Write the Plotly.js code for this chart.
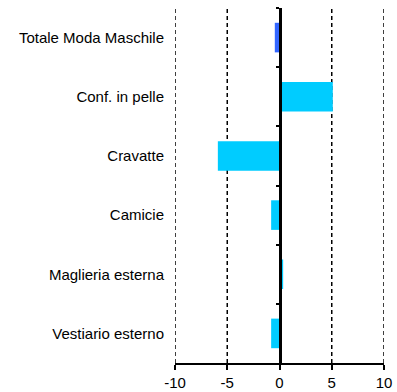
<!DOCTYPE html>
<html>
<head>
<meta charset="utf-8">
<script src="https://cdn.plot.ly/plotly-3.0.1.min.js"></script>
<style>html,body{margin:0;padding:0;background:#fff;}#chart{width:397px;height:392px;}</style>
</head>
<body>
<div id="chart"></div>
<script>
var categories = ["Totale Moda Maschile", "Conf. in pelle", "Cravatte", "Camicie", "Maglieria esterna", "Vestiario esterno"];
var values = [-0.45, 5.1, -5.9, -0.8, 0.35, -0.8];
var barColors = ["#3366FF", "#00CCFF", "#00CCFF", "#00CCFF", "#00CCFF", "#00CCFF"];
var xTickVals = [-10, -5, 0, 5, 10];
var xTickText = ["-10", "-5", "0", "5", "10"];

var font = {family: "Liberation Sans, Arial, sans-serif", size: 15, color: "#000"};
var gridDash = "4px,3px";

var traces = [
  {type: "bar", orientation: "h", y: categories, x: values, marker: {color: barColors}, hoverinfo: "none"},
  {type: "scatter", mode: "markers", y: categories, x: values.map(function(){return 0;}), yaxis: "y2",
   marker: {opacity: 0}, hoverinfo: "none", showlegend: false}
];

var shapes = xTickVals.filter(function(v){ return v !== 0; }).map(function(v){
  return {type: "line", xref: "x", yref: "paper", x0: v, x1: v, y0: 0, y1: 1,
          line: {color: "#000", width: 1.5, dash: gridDash}, layer: "below"};
});

var layout = {
  width: 397, height: 392,
  margin: {l: 175, r: 13, t: 8, b: 29},
  paper_bgcolor: "#fff", plot_bgcolor: "#fff",
  showlegend: false,
  bargap: 0.5,
  font: font,
  shapes: shapes,
  xaxis: {
    range: [-10, 10], tickvals: xTickVals, ticktext: xTickText,
    showgrid: false,
    zeroline: false,
    showline: true, linecolor: "#000", linewidth: 2,
    ticks: "outside", ticklen: 5, tickwidth: 2, tickcolor: "#000",
    tickfont: font, fixedrange: true
  },
  yaxis: {
    type: "category", categoryorder: "array", categoryarray: categories,
    autorange: "reversed",
    showgrid: false, zeroline: false, showline: false, ticks: "",
    ticklabelstandoff: 10, tickfont: font
  },
  yaxis2: {
    type: "category", categoryorder: "array", categoryarray: categories,
    overlaying: "y", anchor: "free", position: 0.5, side: "left",
    matches: "y",
    showgrid: false, zeroline: false, showline: true, linecolor: "#000", linewidth: 3,
    ticks: "outside", tickson: "boundaries", ticklen: 3, tickwidth: 2, tickcolor: "#000",
    showticklabels: false
  }
};

Plotly.newPlot("chart", traces, layout, {staticPlot: true});
</script>
</body>
</html>
